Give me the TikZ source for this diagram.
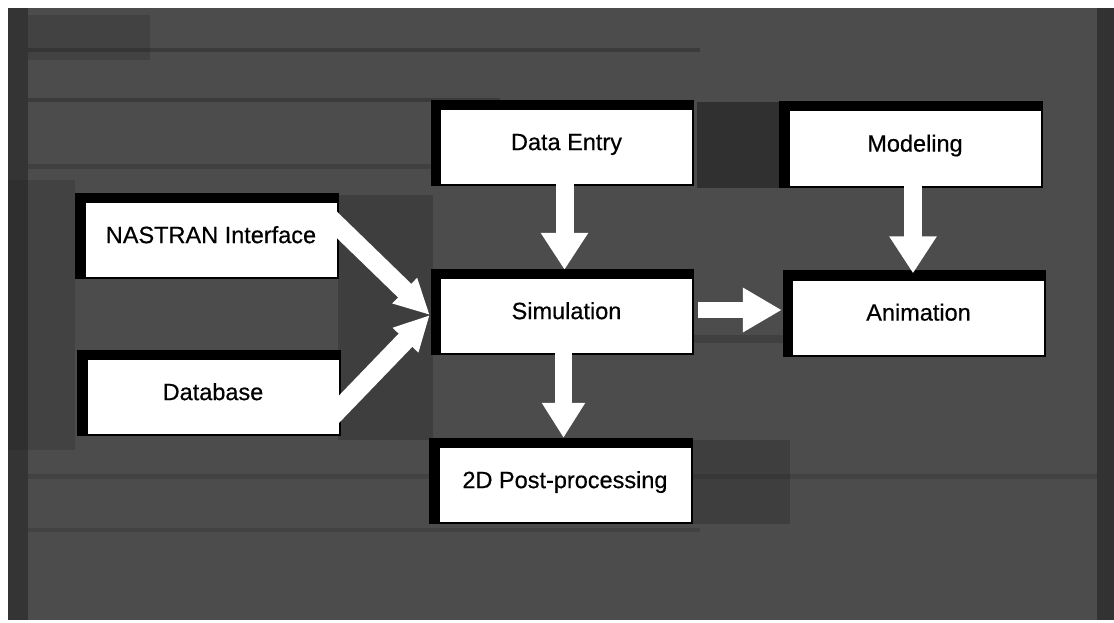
\documentclass[tikz,border=0pt]{standalone}
\usepackage{fontspec}
\setmainfont{Liberation Sans}
\newfontfamily\boxfont{Liberation Sans}[FakeBold=0.5]
\usetikzlibrary{arrows.meta,calc}
\pgfdeclarelayer{bg}
\pgfdeclarelayer{frame}
\pgfsetlayers{bg,frame,main}
\definecolor{screen}{HTML}{4C4C4C}
\definecolor{streak}{HTML}{1E1E1E}

\begin{document}
\begin{tikzpicture}[x=1pt,y=-1pt,
  box/.style={fill=white, minimum width=251pt, minimum height=74pt, inner sep=0pt,
    font=\boxfont\fontsize{23.5}{26}\selectfont, text height=0.72em, text depth=0.1em},
  vflow/.style={draw=white, line width=18pt, -{Triangle[width=45pt,length=37pt]}},
  hflow/.style={draw=white, line width=16pt, -{Triangle[width=42pt,length=39pt]}},
  dflow/.style={draw=white, line width=19pt, -{Triangle[width=33pt,length=35pt]}},
  dark/.style={fill=streak, opacity=#1}, dark/.default=0.3]
\useasboundingbox (0,0) rectangle (1114,623);

% halftone screen behind the chart, with its darker streaks
\begin{pgfonlayer}{bg}
  \fill[screen] (8,8) rectangle (1114,620);
  \fill[dark=0.5] (8,8) rectangle (28,620);
  \fill[dark=0.55] (1097,8) rectangle (1114,620);
  \fill[dark=0.2] (28,15) rectangle (150,60);
  \fill[dark=0.35] (28,48) rectangle (700,52);
  \fill[dark=0.35] (28,98) rectangle (500,102);
  \fill[dark=0.25] (28,164) rectangle (440,169);
  \fill[dark=0.6] (697,102) rectangle (783,188);
  \fill[dark=0.2] (8,180) rectangle (75,450);
  \fill[dark=0.3] (338,195) rectangle (433,440);
  \fill[dark=0.25] (693,335) rectangle (785,343);
  \fill[dark=0.3] (692,440) rectangle (790,524);
  \fill[dark=0.2] (28,474) rectangle (1097,479);
  \fill[dark=0.2] (28,528) rectangle (700,532);
\end{pgfonlayer}

% boxes
\node[box] (de)   at (566.5,147)   {Data Entry};
\node[box] (mod)  at (915,148.5)   {Modeling};
\node[box] (nas)  at (211,240)     {NASTRAN Interface};
\node[box] (sim)  at (566.5,316)   {Simulation};
\node[box] (anim) at (918.5,317.5) {Animation};
\node[box] (db)   at (213,397)     {Database};
\node[box] (post) at (565,485)     {2D Post-processing};

% black frames, heavier on the top and left sides
\begin{pgfonlayer}{frame}
  \foreach \n in {de,mod,nas,sim,anim,db,post}
    \fill[black] ([shift={(-10pt,10pt)}]\n.north west) rectangle ([shift={(2pt,-2pt)}]\n.south east);
\end{pgfonlayer}

% flow arrows
\coordinate (meet) at ($(sim.west)+(-11,-1)$);
\draw[dflow] ($(nas.east)+(-11,-26)$) -- (meet);
\draw[dflow] ($(db.east)+(-12,25)$) -- (meet);
\draw[vflow, shorten >=9pt] ([xshift=-2pt]de.south) -- ([xshift=-2pt]de.south |- sim.north);
\draw[vflow, shorten >=7pt] ([xshift=-2pt]mod.south) -- ([xshift=-2pt]mod.south |- anim.north);
\draw[vflow, line width=17pt, -{Triangle[width=41pt,length=35pt]}, shorten >=10pt]
  ([xshift=-3pt]sim.south) -- ([xshift=-3pt]sim.south |- post.north);
\draw[hflow, shorten <=6pt, shorten >=11pt]
  ([yshift=6pt]sim.east) -- ([yshift=6pt]sim.east -| anim.west);
\end{tikzpicture}
\end{document}
